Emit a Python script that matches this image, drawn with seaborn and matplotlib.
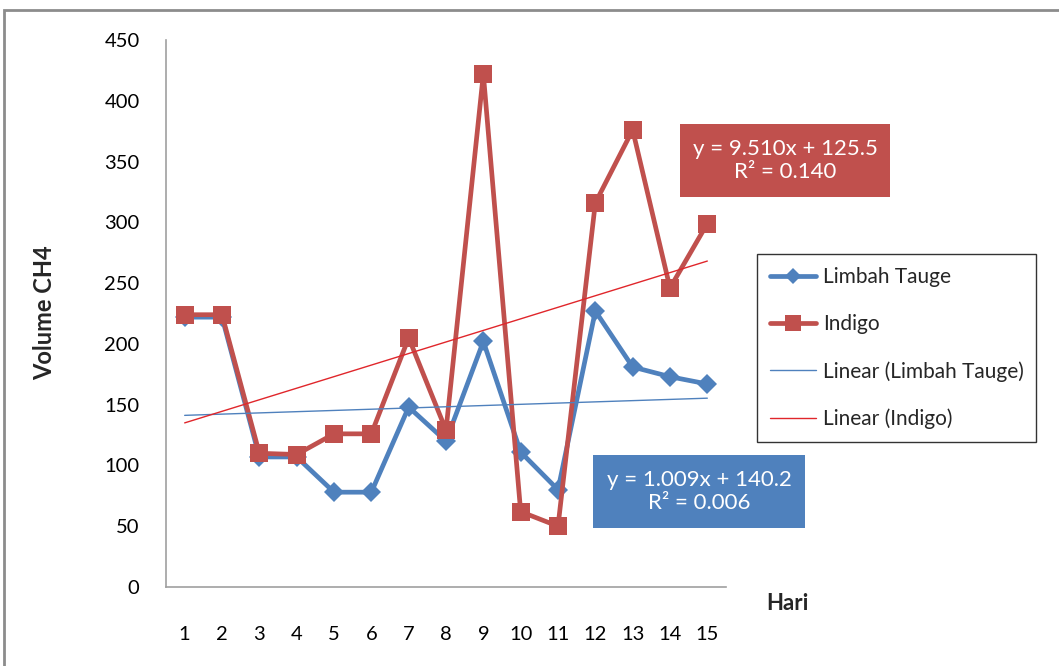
import matplotlib
matplotlib.use("Agg")
import matplotlib.pyplot as plt
from matplotlib.patches import Rectangle
from matplotlib.lines import Line2D
import numpy as np
import pandas as pd
import seaborn as sns

# Daily methane volume per substrate
hari = list(range(1, 16))
limbah_tauge = [222, 222, 107, 107, 78, 78, 148, 120, 202, 111, 80, 227, 181, 173, 167]
indigo = [224, 224, 110, 109, 126, 126, 205, 129, 422, 62, 50, 316, 376, 246, 299]

# Linear trend coefficients (slope, intercept, R^2)
trend_tauge = (1.009, 140.2, 0.006)
trend_indigo = (9.510, 125.5, 0.140)

BLUE = "#4F81BD"
RED = "#C0504D"
TREND_RED = "#E0262B"

sns.set_theme(style="white")
plt.rcParams["font.family"] = ["Lato", "DejaVu Sans"]

W, H = 1059, 666
fig = plt.figure(figsize=(W / 100, H / 100), dpi=100)


def fx(px):
    return px / W


def fy(py):
    return 1 - py / H


ax = fig.add_axes([fx(166), fy(587), fx(726) - fx(166), fy(40) - fy(587)])

df = pd.DataFrame({"Hari": hari, "Limbah Tauge": limbah_tauge, "Indigo": indigo})

sns.lineplot(data=df, x="Hari", y="Limbah Tauge", ax=ax, color=BLUE, lw=3.4,
             marker="D", markersize=10, markeredgewidth=0, zorder=3)
sns.lineplot(data=df, x="Hari", y="Indigo", ax=ax, color=RED, lw=3.4,
             marker="s", markersize=13, markeredgewidth=0, zorder=4)

xs = np.array([hari[0], hari[-1]], dtype=float)
ax.plot(xs, trend_tauge[0] * xs + trend_tauge[1], color=BLUE, lw=1.0, zorder=5)
ax.plot(xs, trend_indigo[0] * xs + trend_indigo[1], color=TREND_RED, lw=1.0, zorder=5)

ax.set_xlim(0.5, 15.5)
ax.set_ylim(0, 450)
ax.set_xticks(hari)
ax.set_yticks(range(0, 451, 50))
ax.tick_params(axis="x", length=0, pad=28, labelsize=14.5, colors="black")
ax.tick_params(axis="y", length=0, pad=19, labelsize=14.5, colors="black")
ax.set_xlabel("")
ax.set_ylabel("")
for side in ("top", "right"):
    ax.spines[side].set_visible(False)
for side in ("left", "bottom"):
    ax.spines[side].set_color("#A0A0A0")
    ax.spines[side].set_linewidth(1.2)

fig.text(fx(45), fy(313), "Volume CH4", rotation=90, ha="center", va="center",
         fontsize=17, fontweight="bold")
fig.text(fx(787), fy(603), "Hari", ha="center", va="center",
         fontsize=16, fontweight="bold")


def eq_box(x0, y0, x1, y1, color, coeffs):
    fig.add_artist(Rectangle((fx(x0), fy(y1)), fx(x1) - fx(x0), fy(y0) - fy(y1),
                             transform=fig.transFigure, facecolor=color,
                             edgecolor="none", zorder=6))
    slope, icpt, r2 = coeffs
    txt = f"y = {slope:.3f}x + {icpt:.1f}\nR² = {r2:.3f}"
    fig.text(fx((x0 + x1) / 2), fy((y0 + y1) / 2), txt, ha="center", va="center",
             color="white", fontsize=16, linespacing=1.2, zorder=7)


eq_box(680, 124, 890, 197, RED, trend_indigo)
eq_box(593, 455, 805, 528, BLUE, trend_tauge)

handles = [
    Line2D([], [], color=BLUE, lw=3.4, marker="D", markersize=8, markeredgewidth=0),
    Line2D([], [], color=RED, lw=3.4, marker="s", markersize=11, markeredgewidth=0),
    Line2D([], [], color=BLUE, lw=1.0),
    Line2D([], [], color=TREND_RED, lw=1.0),
]
labels = ["Limbah Tauge", "Indigo", "Linear (Limbah Tauge)", "Linear (Indigo)"]
leg = fig.legend(handles, labels, loc="upper left",
                 bbox_to_anchor=(fx(747), fy(244)), fontsize=15,
                 frameon=True, fancybox=False, edgecolor="black",
                 handlelength=2.2, handletextpad=0.35, labelspacing=1.3,
                 borderpad=0.6)
leg.get_frame().set_linewidth(1.0)

# chart-area border
fig.add_artist(Rectangle((fx(4), fy(H + 20)), fx(W + 40), fy(10) - fy(H + 20),
                         transform=fig.transFigure, facecolor="none",
                         edgecolor="#8C8C8C", lw=2.0, zorder=0))

fig.savefig("out.png", dpi=100)
